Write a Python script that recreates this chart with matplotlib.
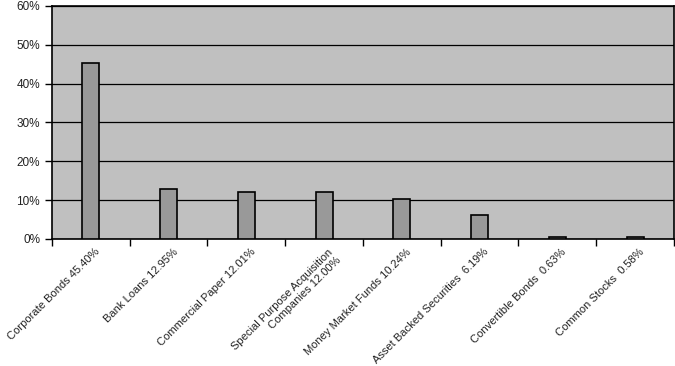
import matplotlib
matplotlib.use("Agg")
import matplotlib.pyplot as plt
import numpy as np
from matplotlib.ticker import FixedLocator, PercentFormatter

categories = ["Corporate Bonds 45.40%", "Bank Loans 12.95%", "Commercial Paper 12.01%",
              "Special Purpose Acquisition\nCompanies 12.00%", "Money Market Funds 10.24%",
              "Asset Backed Securities  6.19%", "Convertible Bonds  0.63%", "Common Stocks  0.58%"]
values = [45.40, 12.95, 12.01, 12.00, 10.24, 6.19, 0.63, 0.58]
yticks = [0, 10, 20, 30, 40, 50, 60]

plt.rcParams['font.family'] = ['Liberation Sans', 'DejaVu Sans']
fig = plt.figure(figsize=(6.75, 3.66), dpi=100)
ax = fig.add_axes([0.077, 0.347, 0.9215, 0.637])
ax.set_facecolor('#c0c0c0')
x = np.arange(len(categories))
ax.bar(x, values, width=0.22, color='#999999', edgecolor='black', linewidth=1.2, zorder=3)
ax.set_xlim(-0.5, len(categories) - 0.5)
ax.set_ylim(0, 60)
ax.set_yticks(yticks)
ax.yaxis.set_major_formatter(PercentFormatter(decimals=0))
ax.grid(axis='y', color='black', linewidth=0.9, zorder=1)
ax.set_axisbelow(True)

ax.xaxis.set_major_locator(FixedLocator(np.arange(-0.5, len(categories) + 0.5, 1.0)))
ax.xaxis.set_major_formatter(plt.NullFormatter())
ax.tick_params(axis='x', which='major', direction='out', length=5, width=1, color='black')
ax.tick_params(axis='y', direction='out', length=5, width=1, labelsize=8.5,
               color='black', labelcolor='#222222')

for xi, lab in zip(x, categories):
    ax.text(xi + 0.05, -2.0, lab, rotation=45, ha='right', va='top', rotation_mode='anchor',
            fontsize=8, color='#222222', multialignment='right', linespacing=1.15)

for s in ax.spines.values():
    s.set_color('black')
    s.set_linewidth(1.2)

fig.savefig('out.png', dpi=100)
